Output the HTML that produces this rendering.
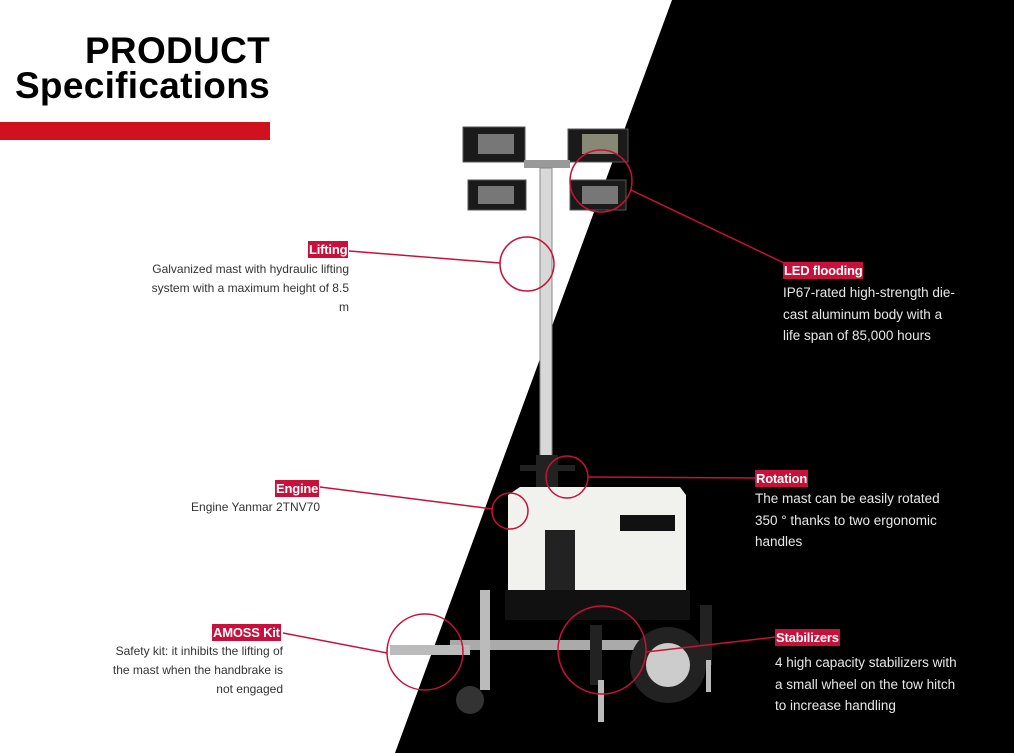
<!DOCTYPE html>
<html><head><meta charset="utf-8"><style>
*{margin:0;padding:0;box-sizing:border-box}
body{width:1014px;height:753px;overflow:hidden;background:#fff;position:relative;font-family:"Liberation Sans",sans-serif}
.t{position:absolute;font-size:12px;line-height:19px;color:#333;white-space:nowrap}
.w{color:#e8e8e8;font-size:13.5px;line-height:21.5px}
.lab{position:absolute;background:#c8103a;color:#fff;font-weight:bold;font-size:13px;line-height:17px;padding:0 1px;letter-spacing:-0.2px}
h1{position:absolute;right:744px;top:33px;text-align:right;font-size:37px;line-height:35px;font-weight:bold;color:#000;letter-spacing:0.3px}
</style></head><body>
<svg width="1014" height="753" style="position:absolute;left:0;top:0">
<polygon points="672,0 1014,0 1014,753 395,753" fill="#000"/>
<rect x="0" y="122" width="270" height="18" fill="#d0121f"/>
<g>
<rect x="463" y="127" width="62" height="35" fill="#1a1a1a" stroke="#555"/>
<rect x="568" y="129" width="60" height="33" fill="#1a1a1a" stroke="#555"/>
<rect x="468" y="180" width="58" height="30" fill="#1a1a1a" stroke="#555"/>
<rect x="570" y="180" width="56" height="30" fill="#1a1a1a" stroke="#555"/>
<rect x="478" y="134" width="36" height="20" fill="#777"/>
<rect x="582" y="134" width="36" height="20" fill="#887"/>
<rect x="478" y="186" width="36" height="18" fill="#777"/>
<rect x="582" y="186" width="36" height="18" fill="#777"/>
<rect x="524" y="160" width="46" height="8" fill="#999"/>
<rect x="540" y="168" width="12" height="300" fill="#d8d8d8" stroke="#888"/>
<rect x="536" y="455" width="22" height="40" fill="#222"/>
<rect x="520" y="465" width="55" height="6" fill="#222"/>
</g>
<path d="M508,495 L520,487 L680,487 L686,495 L686,590 L508,590 Z" fill="#f1f1ee"/>
<rect x="545" y="530" width="30" height="70" fill="#222"/>
<rect x="620" y="515" width="55" height="16" fill="#111"/>
<rect x="505" y="590" width="185" height="30" fill="#111"/>
<rect x="450" y="640" width="240" height="10" fill="#aaa"/>
<rect x="390" y="645" width="80" height="10" fill="#bbb"/>
<circle cx="668" cy="665" r="38" fill="#222"/>
<circle cx="668" cy="665" r="22" fill="#ccc"/>
<circle cx="470" cy="700" r="14" fill="#333"/>
<rect x="480" y="590" width="10" height="100" fill="#bbb"/>
<rect x="590" y="625" width="12" height="60" fill="#222"/>
<rect x="598" y="680" width="6" height="42" fill="#bbb"/>
<rect x="700" y="605" width="12" height="60" fill="#222"/>
<rect x="706" y="660" width="5" height="32" fill="#bbb"/>
<g fill="none" stroke="#c8103a" stroke-width="1.5">
<circle cx="601" cy="181" r="31"/>
<circle cx="527" cy="264" r="27"/>
<circle cx="567" cy="477" r="21"/>
<circle cx="510" cy="511" r="18"/>
<circle cx="425" cy="652" r="38"/>
<circle cx="602" cy="650" r="44"/>
<line x1="349" y1="251" x2="500" y2="263"/>
<line x1="631" y1="190" x2="784" y2="263"/>
<line x1="588" y1="477" x2="755" y2="478"/>
<line x1="320" y1="487" x2="493" y2="509"/>
<line x1="283" y1="633" x2="387" y2="653"/>
<line x1="646" y1="652" x2="776" y2="637"/>
</g>
</svg>
<h1>PRODUCT<br>Specifications</h1>
<div class="lab" style="left:308px;top:241px">Lifting</div>
<div class="t" style="right:665px;top:260px;text-align:right">Galvanized mast with hydraulic lifting<br>system with a maximum height of 8.5<br>m</div>
<div class="lab" style="left:275px;top:480px">Engine</div>
<div class="t" style="right:694px;top:498px;text-align:right">Engine Yanmar 2TNV70</div>
<div class="lab" style="left:212px;top:624px">AMOSS Kit</div>
<div class="t" style="right:731px;top:642px;text-align:right">Safety kit: it inhibits the lifting of<br>the mast when the handbrake is<br>not engaged</div>
<div class="lab" style="left:783px;top:262px">LED flooding</div>
<div class="t w" style="left:783px;top:282px">IP67-rated high-strength die-<br>cast aluminum body with a<br>life span of 85,000 hours</div>
<div class="lab" style="left:755px;top:470px">Rotation</div>
<div class="t w" style="left:755px;top:488px">The mast can be easily rotated<br>350 ° thanks to two ergonomic<br>handles</div>
<div class="lab" style="left:775px;top:629px">Stabilizers</div>
<div class="t w" style="left:775px;top:652px">4 high capacity stabilizers with<br>a small wheel on the tow hitch<br>to increase handling</div>
</body></html>
